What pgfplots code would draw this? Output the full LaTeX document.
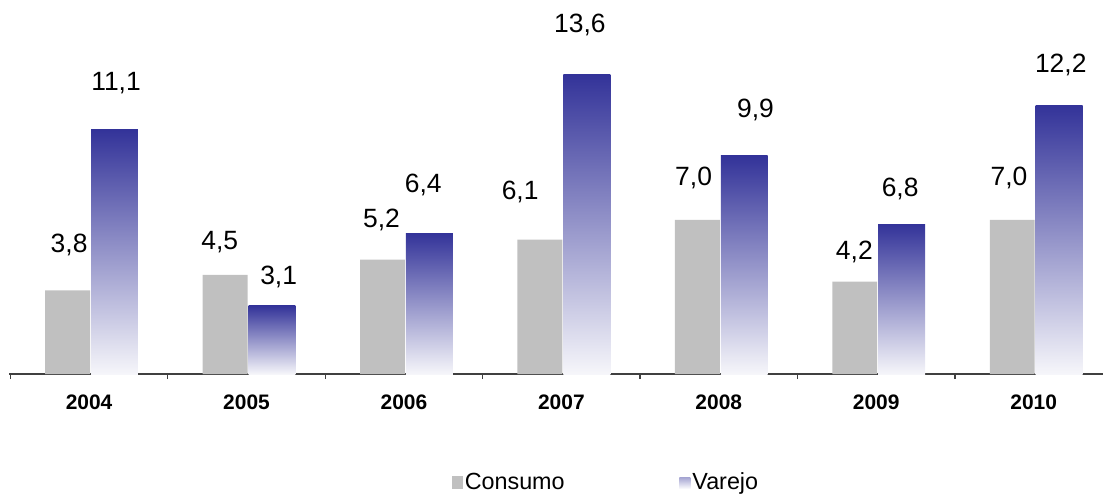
\documentclass[border=0pt]{standalone}
\usepackage{pgfplots}
\usepackage{pgfplotstable}
\pgfplotsset{compat=1.18}
\usepackage{fontspec}
\setmainfont{Liberation Sans}

\definecolor{consumo}{HTML}{C0C0C0}
\definecolor{varejotop}{HTML}{333399}
\definecolor{varejobot}{HTML}{F6F6FA}
\definecolor{eixo}{HTML}{404040}

% x = 0..6 -> 2004..2010
\pgfplotstableread{
x v
0 3.8
1 4.5
2 5.2
3 6.1
4 7.0
5 4.2
6 7.0
}\consumo

\pgfplotstableread{
x v
0 11.1
1 3.1
2 6.4
3 13.6
4 9.9
5 6.8
6 12.2
}\varejo

% where the data labels sit
\pgfplotstableread{
x y v
-0.127 5.84 3.8
0.171 13.21 11.1
0.830 5.97 4.5
1.204 4.43 3.1
1.857 7.01 5.2
2.123 8.60 6.4
2.738 8.28 6.1
3.118 15.84 13.6
3.840 8.91 7.0
4.233 11.99 9.9
4.861 5.52 4.2
5.152 8.42 6.8
5.843 8.91 7.0
6.172 14.03 12.2
}\rotulos

\begin{document}
\begin{tikzpicture}
\begin{axis}[
    scale only axis,
    width=1104pt, height=494pt,
    xmin=-0.558, xmax=6.439,
    ymin=-5.385, ymax=16.97,
    axis x line=middle, axis y line=none,
    x axis line style={-, draw=eixo, line width=2.5pt, shorten <=8pt},
    hide obscured x ticks=false,
    xtick={0,...,6},
    xticklabels={2004,2005,2006,2007,2008,2009,2010},
    minor xtick={-0.5,0.5,...,5.5},
    major tick length=0pt,
    minor tick length=5pt,
    tick align=outside,
    every minor tick/.append style={draw=eixo, line width=1.2pt},
    xticklabel style={font=\fontsize{21}{25}\selectfont\bfseries, yshift=-17pt},
    /pgf/number format/assume math mode=true,
    clip=false,
    unbounded coords=discard,
    legend columns=2,
    legend cell align=left,
    legend style={draw=none, fill=none, at={(0.549,0.022)}, anchor=center,
        font=\fontsize{23.4}{28}\selectfont,
        /tikz/every even column/.append style={column sep=113pt}},
]
\addplot[ybar, bar width=45pt, bar shift=-21.5pt, fill=consumo, draw=none,
    legend image code/.code={\path[draw=none, fill=consumo] (-2pt,-7pt) rectangle (9pt,6pt);}]
    table[x=x, y=v] {\consumo};
\addlegendentry{Consumo}
\addlegendimage{legend image code/.code={\path[draw=none, top color=varejotop!45, bottom color=white] (-2pt,-7pt) rectangle (9pt,5pt);}}
\addlegendentry{Varejo}
% one plot per bar so that each bar gets its own gradient
\pgfplotsinvokeforeach{0,...,6}{
\addplot[ybar, bar width=47pt, bar shift=25.5pt, draw=none, forget plot,
    top color=varejotop, bottom color=varejobot,
    x filter/.expression={abs(x-#1)<0.1 ? x : nan}]
    table[x=x, y=v] {\varejo};
}
\addplot[only marks, mark=none, forget plot,
    point meta=\thisrow{v},
    nodes near coords={\pgfmathprintnumber[fixed, fixed zerofill, precision=1, use comma]{\pgfplotspointmeta}},
    nodes near coords style={anchor=center, font=\fontsize{26.5}{30}\selectfont, text=black}]
    table[x=x, y=y] {\rotulos};
\path (rel axis cs:0,0) rectangle (rel axis cs:1,1);
\end{axis}
\end{tikzpicture}
\end{document}
